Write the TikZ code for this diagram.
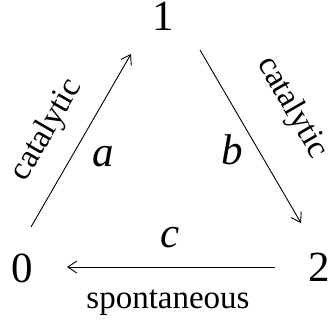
\documentclass[tikz,border=0pt]{standalone}
\usepackage{fontspec}
\setmainfont{Liberation Serif}
\usetikzlibrary{arrows.meta}
\begin{document}
\begin{tikzpicture}[x=1pt,y=-1pt,
  state/.style={inner sep=0pt,font=\fontsize{43}{50}\selectfont},
  lbl/.style={inner sep=0pt,font=\fontsize{43}{50}\selectfont\itshape},
  txt/.style={inner sep=0pt,font=\fontsize{33}{40}\selectfont},
  edge/.style={line width=0.9pt,-{Straight Barb[length=9pt,width=12pt,line width=0.9pt]}}]
\useasboundingbox (0,0) rectangle (329,325);
\node[state] (n1) at (163.5,16) {1};
\node[state] (n0) at (22,268) {0};
\node[state] (n2) at (319,267.5) {2};
\coordinate (a0) at (31,227);
\coordinate (a1) at (131,54);
\coordinate (b1) at (200,50);
\coordinate (b2) at (301,223);
\coordinate (c2) at (275,267);
\coordinate (c0) at (67,267);
\draw[edge] (a0) -- (a1);
\draw[edge] (b1) -- (b2);
\draw[edge] (c2) -- (c0);
\node[lbl] (la) at (103,156.5) {a};
\node[lbl] (lb) at (232.5,150) {b};
\node[lbl] (lc) at (170.5,238) {c};
\node[txt,rotate=60] (ca) at (47,130) {catalytic};
\node[txt,rotate=-60] (cb) at (292,108) {catalytic};
\node[txt,anchor=base] (sp) at (168,308) {spontaneous};
\end{tikzpicture}
\end{document}
